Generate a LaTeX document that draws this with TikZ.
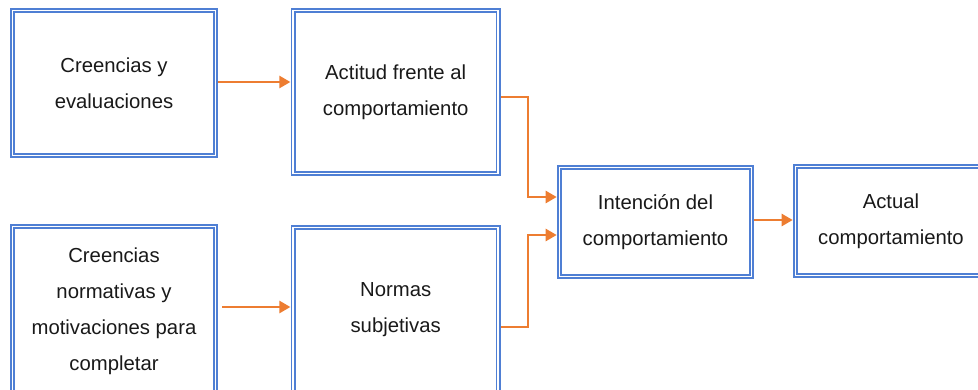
\documentclass[tikz,border=0pt]{standalone}
\usepackage{fontspec}
\setmainfont{Liberation Sans}
\usetikzlibrary{arrows.meta}
\definecolor{boxblue}{HTML}{4F7FD4}
\definecolor{arrorange}{HTML}{ED7D31}
\tikzset{
  dbox/.style={draw=boxblue, line width=1.6pt, double=white, double distance=1.7pt,
    inner sep=0pt, align=center, text=black!90,
    font=\fontsize{20.3}{36}\selectfont},
  conn/.style={draw=arrorange, line width=2.5pt, -{Triangle[length=11pt,width=12pt]}, shorten >=2pt}
}
\begin{document}
\begin{tikzpicture}[x=1pt,y=-1pt]
\useasboundingbox (0,0) rectangle (978,389);
\clip (0,0) rectangle (978,389);
\node[dbox, minimum width=203pt, minimum height=145pt] (b1) at (114,83) {\raisebox{-4pt}{\begin{tabular}{@{}c@{}}Creencias y\\evaluaciones\end{tabular}}};
\node[dbox, minimum width=205pt, minimum height=163pt] (b2) at (395.7,92) {Actitud frente al\\comportamiento};
\node[dbox, minimum width=192pt, minimum height=109pt] (b3) at (655.5,222) {Intención del\\comportamiento};
\node[dbox, minimum width=191pt, minimum height=109pt] (b4) at (891,221) {Actual\\comportamiento};
\node[dbox, minimum width=203pt, minimum height=170pt] (b5) at (114,311.5) {Creencias\\normativas y\\motivaciones para\\completar};
\node[dbox, minimum width=205pt, minimum height=165pt] (b6) at (395.7,310) {Normas\\subjetivas};
\coordinate (k1) at (528,97);
\coordinate (k2) at (528,327);
\draw[conn] ([xshift=2pt]b1.east |- 0,82) -- (b2.west |- 0,82);
\draw[conn] ([xshift=6pt]b5.east |- 0,307) -- (b6.west |- 0,307);
\draw[conn] ([xshift=2pt]b2.east |- k1) -- (k1) -- (k1 |- 0,197) -- (b3.west |- 0,197);
\draw[conn] ([xshift=2pt]b6.east |- k2) -- (k2) -- (k2 |- 0,235) -- (b3.west |- 0,235);
\draw[conn] ([xshift=2pt]b3.east |- 0,220) -- (b4.west |- 0,220);
\end{tikzpicture}
\end{document}
